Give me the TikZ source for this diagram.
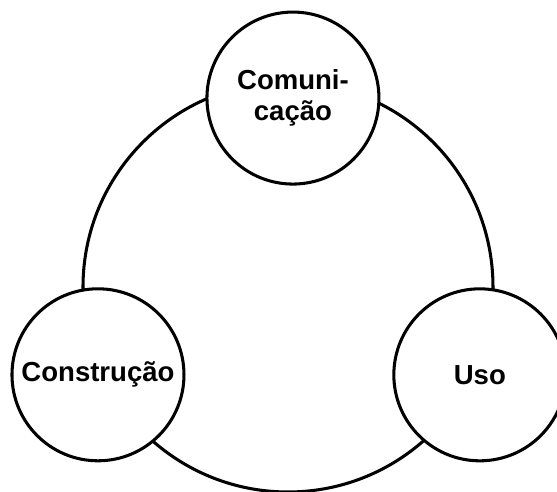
\documentclass[tikz,border=0pt]{standalone}
\usepackage{fontspec}
\setmainfont{Liberation Sans}
\begin{document}
\begin{tikzpicture}[
    ring/.style={line width=2.6pt},
    stage/.style={circle, draw, fill=white, line width=2.6pt, inner sep=0pt,
      minimum size=5.16cm, align=center,
      font=\fontsize{23.5}{26}\selectfont\bfseries}]
      \clip (-8.64,-6.15) rectangle (8.07,8.61);
      \draw[ring] (0,0) circle (6.15);
      \draw
        (88.5:5.67) node[stage] (com){Comuni-\\cação}
        (204.8:6.28) node[stage] (cons){Construção}
        (335.4:6.33) node[stage] (uso){Uso};
    \end{tikzpicture}
\end{document}
